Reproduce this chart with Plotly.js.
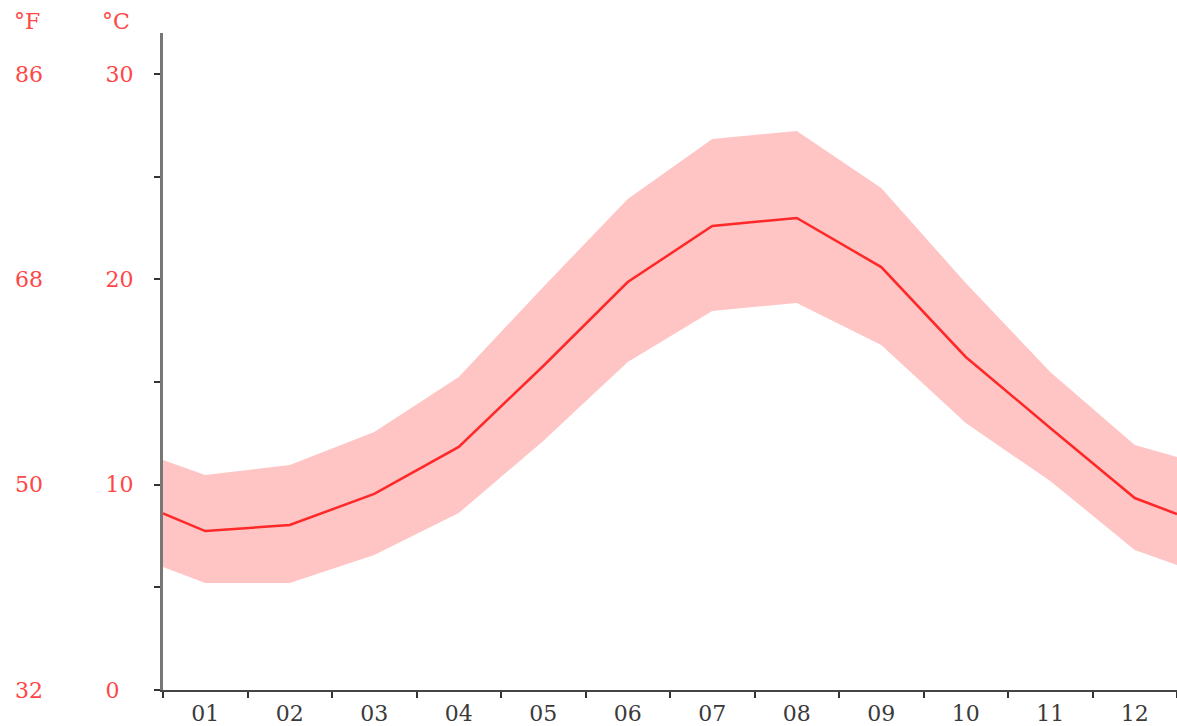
<!DOCTYPE html>
<html>
<head>
<meta charset="utf-8">
<script src="https://cdn.plot.ly/plotly-3.0.1.min.js"></script>
<style>html,body{margin:0;padding:0;background:#fff;}#chart{width:1177px;height:726px;}</style>
</head>
<body>
<div id="chart"></div>
<script>
// month positions: 0.5 and 12.5 are the chart edges (Dec/Jan wrap)
const monthPos = [0.5, 1, 2, 3, 4, 5, 6, 7, 8, 9, 10, 11, 12, 12.5];
const monthLabels = ['01','02','03','04','05','06','07','08','09','10','11','12'];
const meanTemp = [8.6, 7.74, 8.04, 9.55, 11.84, 15.78, 19.87, 22.6, 22.99, 20.6, 16.22, 12.76, 9.35, 8.57];
const maxTemp  = [11.2, 10.47, 10.96, 12.57, 15.25, 19.63, 23.92, 26.84, 27.23, 24.45, 19.82, 15.49, 11.93, 11.35];
const minTemp  = [5.99, 5.21, 5.21, 6.58, 8.62, 12.13, 15.98, 18.46, 18.85, 16.8, 13.0, 10.18, 6.82, 6.09];
const celsiusTicks = [0, 10, 20, 30];
const celsiusText = ['0\u2007', '10', '20', '30'];
const fahrenheitTicks = [32, 50, 68, 86];

const red = 'rgb(255,40,40)';
const labelFont = {family: 'DejaVu Serif', size: 22, color: 'rgb(255,70,70)'};

const traces = [
  {x: monthPos, y: minTemp, mode: 'lines', line: {width: 0}, hoverinfo: 'skip', showlegend: false},
  {x: monthPos, y: maxTemp, mode: 'lines', line: {width: 0}, fill: 'tonexty', fillcolor: '#ffc5c5', hoverinfo: 'skip', showlegend: false},
  {x: monthPos, y: meanTemp, mode: 'lines', line: {color: red, width: 2.5}, showlegend: false},
  {x: [1], y: [50], yaxis: 'y2', mode: 'markers', marker: {opacity: 0}, hoverinfo: 'skip', showlegend: false}
];

const layout = {
  width: 1177, height: 726,
  margin: {l: 163, r: 0, t: 33, b: 36},
  paper_bgcolor: '#fff', plot_bgcolor: '#fff',
  showlegend: false,
  xaxis: {
    range: [0.5, 12.5], tickvals: [1,2,3,4,5,6,7,8,9,10,11,12], ticktext: monthLabels,
    ticks: '', showgrid: false, zeroline: false,
    showline: true, linecolor: '#444', linewidth: 2,
    tickfont: {family: 'DejaVu Serif', size: 22, color: '#3a3a3a'}, ticklabelstandoff: 3,
    minor: {ticks: 'outside', tick0: 0.5, dtick: 1, ticklen: 6, tickwidth: 2, tickcolor: '#333', showgrid: false}
  },
  yaxis: {
    range: [0, 32], tickvals: celsiusTicks, ticktext: celsiusText,
    ticks: 'outside', ticklen: 6, tickwidth: 2, tickcolor: '#333',
    showgrid: false, zeroline: false,
    showline: true, linecolor: '#777', linewidth: 3,
    tickfont: labelFont, ticklabelstandoff: 16,
    minor: {ticks: 'outside', tick0: 0, dtick: 5, ticklen: 6, tickwidth: 2, tickcolor: '#333', showgrid: false}
  },
  yaxis2: {
    overlaying: 'y', anchor: 'free', position: 0, side: 'left',
    range: [32, 32 + 32 * 1.8], tickvals: fahrenheitTicks,
    ticks: '', showgrid: false, zeroline: false, showline: false,
    tickfont: labelFont, ticklabelstandoff: 120
  },
  annotations: [
    {text: '°F', xref: 'paper', yref: 'paper', x: -0.134, y: 1.017, xanchor: 'center', yanchor: 'middle', showarrow: false, font: labelFont},
    {text: '°C', xref: 'paper', yref: 'paper', x: -0.046, y: 1.017, xanchor: 'center', yanchor: 'middle', showarrow: false, font: labelFont}
  ]
};

Plotly.newPlot('chart', traces, layout, {displayModeBar: false, staticPlot: true});
</script>
</body>
</html>
